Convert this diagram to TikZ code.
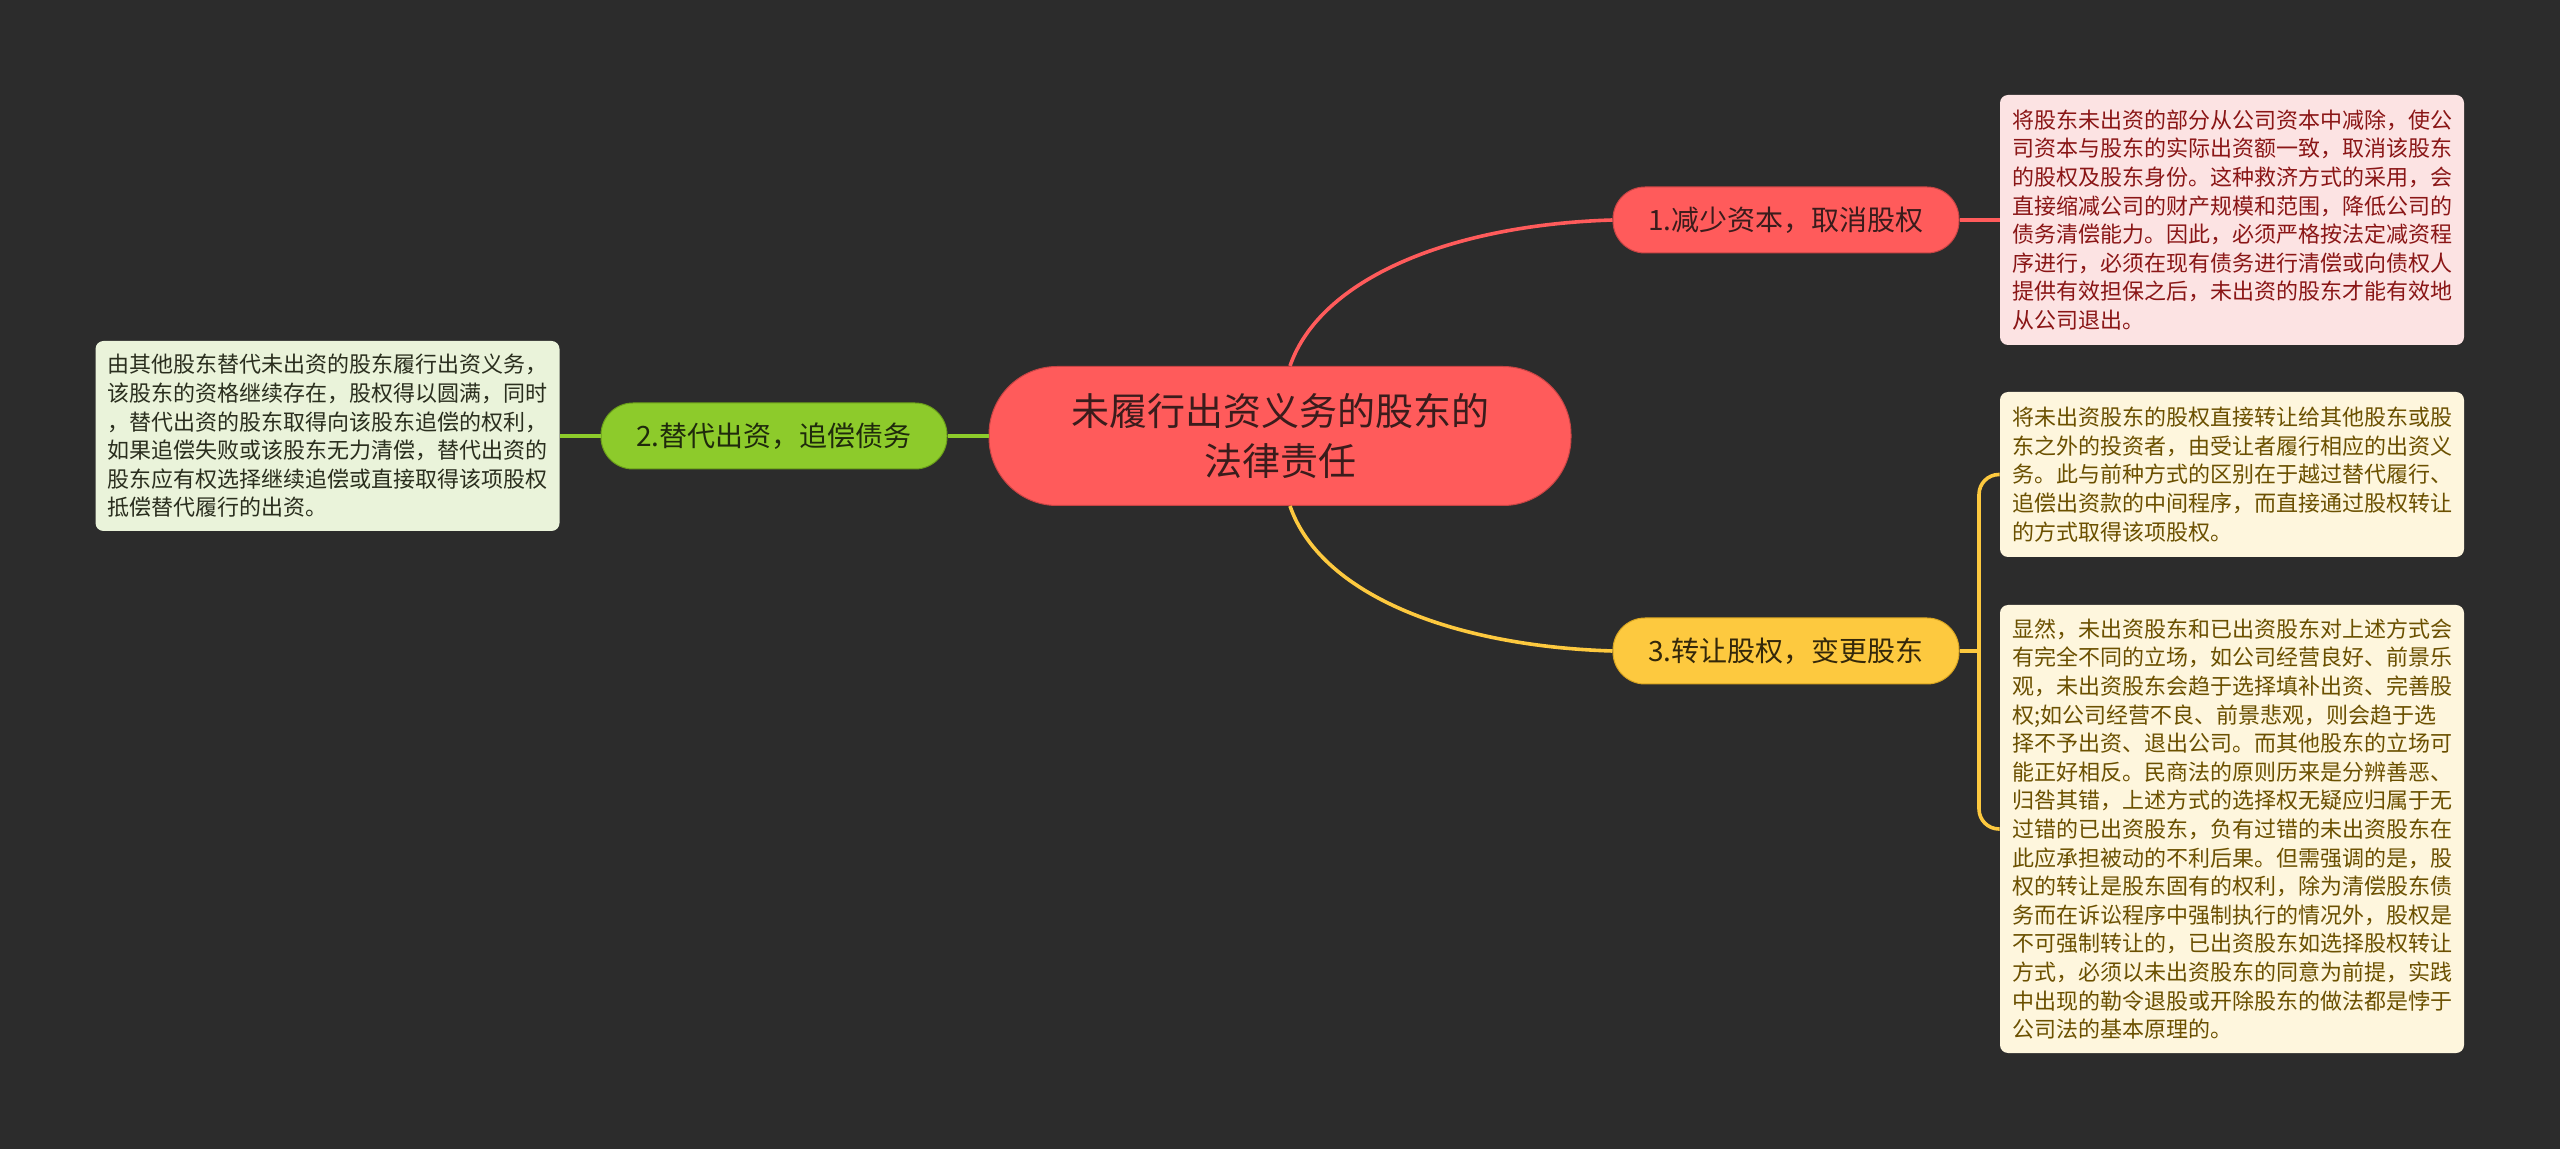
\documentclass[tikz,border=0pt]{standalone}
\usepackage{fontspec}
\newfontfamily\cjk{Noto Sans CJK SC}
\usepackage{tikz}

\definecolor{bgdark}{HTML}{2C2C2C}
\definecolor{redmain}{HTML}{FF5B5B}
\definecolor{rededge}{HTML}{C84444}
\definecolor{redink}{HTML}{3A1C1C}
\definecolor{redleaf}{HTML}{FCE3E3}
\definecolor{redleafink}{HTML}{8A1616}
\definecolor{greenmain}{HTML}{8DCB2B}
\definecolor{greenedge}{HTML}{6A9E1A}
\definecolor{greenink}{HTML}{1F2A0C}
\definecolor{greenleaf}{HTML}{EAF3DA}
\definecolor{greenleafink}{HTML}{2A2E1E}
\definecolor{yellowmain}{HTML}{FDC93F}
\definecolor{yellowedge}{HTML}{D9A520}
\definecolor{yellowink}{HTML}{33270A}
\definecolor{yellowleaf}{HTML}{FEF6DD}
\definecolor{yellowleafink}{HTML}{6B5000}

\begin{document}
\begin{tikzpicture}[
  x=0.5pt, y=-0.5pt,
  topic/.style={
    fill=redmain, draw=rededge, line width=0.5pt, rounded corners=34pt,
    minimum width=291pt, minimum height=69.5pt, align=center,
    font=\cjk\fontsize{19}{25}\selectfont, text=redink
  },
  branch/.style={
    line width=0.5pt, rounded corners=16pt, inner sep=0pt,
    minimum width=173pt, minimum height=33pt,
    font=\cjk\fontsize{14}{17}\selectfont
  },
  leaf/.style={
    rounded corners=4pt, text width=220pt, inner xsep=6pt, align=left,
    font=\cjk\fontsize{11}{14.3}\selectfont
  },
  link/.style={line width=1.8pt}
]
\fill[bgdark] (0,0) rectangle (2560,1149);
\useasboundingbox (0,0) rectangle (2560,1149);

\node[topic] (topic) at (1280,436) {未履行出资义务的股东的\\法律责任};

\node[branch, fill=redmain, draw=rededge, text=redink] (sub1) at (1786,220) {1.减少资本，取消股权};
\node[branch, fill=greenmain, draw=greenedge, text=greenink] (sub2) at (774,436) {2.替代出资，追偿债务};
\node[branch, fill=yellowmain, draw=yellowedge, text=yellowink] (sub3) at (1786,651) {3.转让股权，变更股东};

\node[leaf, fill=redleaf, text=redleafink, minimum height=125pt] (note1) at (2232,220) {%
将股东未出资的部分从公司资本中减除，使公\\
司资本与股东的实际出资额一致，取消该股东\\
的股权及股东身份。这种救济方式的采用，会\\
直接缩减公司的财产规模和范围，降低公司的\\
债务清偿能力。因此，必须严格按法定减资程\\
序进行，必须在现有债务进行清偿或向债权人\\
提供有效担保之后，未出资的股东才能有效地\\
从公司退出。};

\node[leaf, fill=greenleaf, text=greenleafink, minimum height=95pt] (note2) at (327.5,436) {%
由其他股东替代未出资的股东履行出资义务，\\
该股东的资格继续存在，股权得以圆满，同时\\
，替代出资的股东取得向该股东追偿的权利，\\
如果追偿失败或该股东无力清偿，替代出资的\\
股东应有权选择继续追偿或直接取得该项股权\\
抵偿替代履行的出资。};

\node[leaf, fill=yellowleaf, text=yellowleafink, minimum height=82.5pt] (note3a) at (2232,474.5) {%
将未出资股东的股权直接转让给其他股东或股\\
东之外的投资者，由受让者履行相应的出资义\\
务。此与前种方式的区别在于越过替代履行、\\
追偿出资款的中间程序，而直接通过股权转让\\
的方式取得该项股权。};

\node[leaf, fill=yellowleaf, text=yellowleafink, minimum height=224pt] (note3b) at (2232,829) {%
显然，未出资股东和已出资股东对上述方式会\\
有完全不同的立场，如公司经营良好、前景乐\\
观，未出资股东会趋于选择填补出资、完善股\\
权;如公司经营不良、前景悲观，则会趋于选\\
择不予出资、退出公司。而其他股东的立场可\\
能正好相反。民商法的原则历来是分辨善恶、\\
归咎其错，上述方式的选择权无疑应归属于无\\
过错的已出资股东，负有过错的未出资股东在\\
此应承担被动的不利后果。但需强调的是，股\\
权的转让是股东固有的权利，除为清偿股东债\\
务而在诉讼程序中强制执行的情况外，股权是\\
不可强制转让的，已出资股东如选择股权转让\\
方式，必须以未出资股东的同意为前提，实践\\
中出现的勒令退股或开除股东的做法都是悖于\\
公司法的基本原理的。};

\coordinate (fork) at (1979,651);

\draw[link, redmain] ([xshift=5pt]topic.north) .. controls +(30,-87) and +(-163,5) .. (sub1.west);
\draw[link, redmain] (sub1.east) -- (note1.west);
\draw[link, greenmain] (topic.west) -- (sub2.east);
\draw[link, greenmain] (sub2.west) -- (note2.east);
\draw[link, yellowmain] ([xshift=5pt]topic.south) .. controls +(30,87) and +(-163,-5) .. (sub3.west);
\draw[link, yellowmain] (sub3.east) -- (fork);
\draw[link, yellowmain, rounded corners=10pt] (note3a.west) -| (fork) |- (note3b.west);
\end{tikzpicture}
\end{document}
